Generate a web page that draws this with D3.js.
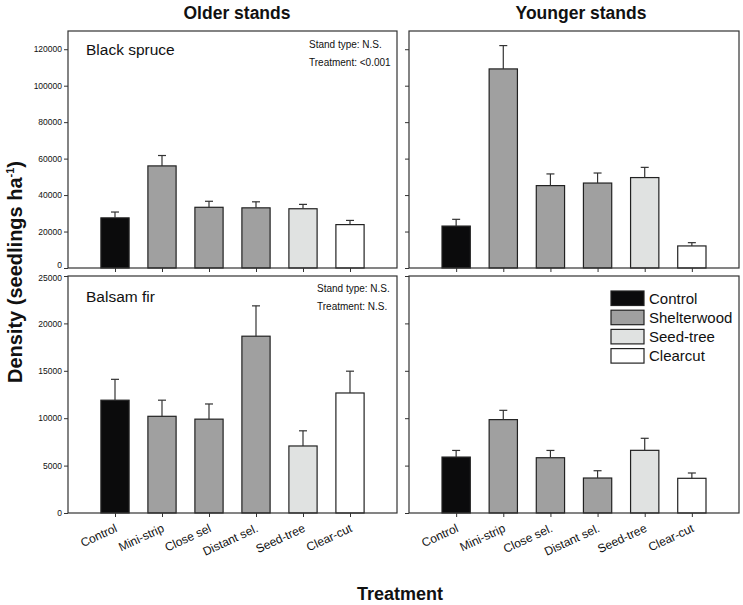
<!DOCTYPE html>
<html lang="en">
	<head>
		<meta charset="utf-8">
		<title>seedling density</title>
		<script type="text/javascript" src="https://d3js.org/d3.v7.min.js"></script>
		<style type="text/css">
			body { margin: 0; background: #fff; }
			text { font-family: "Liberation Sans", Arial, sans-serif; fill: #111; }
		</style>
	</head>
	<body>
		<script type="text/javascript">
			//Width and height
			var w = 743;
			var h = 605;

			//Data
			var labelsOlder = ["Control", "Mini-strip", "Close sel", "Distant sel.", "Seed-tree", "Clear-cut"];
			var labelsYounger = ["Control", "Mini-strip", "Close sel.", "Distant sel.", "Seed-tree", "Clear-cut"];
			var groups = ["Control", "Shelterwood", "Shelterwood", "Shelterwood", "Seed-tree", "Clearcut"];
			var legendItems = ["Control", "Shelterwood", "Seed-tree", "Clearcut"];

			var spruceOlder = [27500, 56000, 33300, 33000, 32500, 23800];
			var spruceOlderErr = [3200, 5700, 3300, 3300, 2400, 2300];
			var spruceYounger = [23000, 109200, 45200, 46600, 49600, 12100];
			var spruceYoungerErr = [3700, 12800, 6400, 5500, 5600, 1800];

			var firOlder = [11900, 10200, 9900, 18650, 7070, 12660];
			var firOlderErr = [2200, 1700, 1600, 3200, 1600, 2300];
			var firYounger = [5900, 9850, 5830, 3690, 6610, 3660];
			var firYoungerErr = [700, 980, 770, 770, 1270, 560];

			var spruceTicks = [0, 20000, 40000, 60000, 80000, 100000, 120000];
			var firTicks = [0, 5000, 10000, 15000, 20000, 25000];

			var fillColor = {
				"Control": "#0b0b0c",
				"Shelterwood": "#a0a0a0",
				"Seed-tree": "#e0e2e1",
				"Clearcut": "#ffffff"
			};

			//Panel layout
			var cols = [[68, 397], [409, 739]];
			var rows = [[31, 268], [276, 513]];

			var panels = [
				{col: 0, row: 0, values: spruceOlder, errs: spruceOlderErr, max: 130000, ticks: spruceTicks,
				 showY: true, label: "Black spruce", labelY: 55, note: ["Stand type: N.S.", "Treatment: <0.001"], noteX: 309, noteY: [47.5, 66]},
				{col: 1, row: 0, values: spruceYounger, errs: spruceYoungerErr, max: 130000, ticks: spruceTicks, showY: false},
				{col: 0, row: 1, values: firOlder, errs: firOlderErr, max: 25000, ticks: firTicks, showY: true,
				 label: "Balsam fir", labelY: 301.5, note: ["Stand type: N.S.", "Treatment: N.S."], noteX: 317, noteY: [291.5, 310], xLabels: labelsOlder},
				{col: 1, row: 1, values: firYounger, errs: firYoungerErr, max: 25000, ticks: firTicks, showY: false,
				 xLabels: labelsYounger, legend: true}
			];

			//Create SVG element
			var svg = d3.select("body")
						.append("svg")
						.attr("width", w)
						.attr("height", h);

			panels.forEach(function(p) {
				var x0 = cols[p.col][0], x1 = cols[p.col][1];
				var y0 = rows[p.row][0], y1 = rows[p.row][1];

				var xScale = d3.scalePoint()
							   .domain(d3.range(p.values.length))
							   .range([x0, x1])
							   .padding(1);
				var barW = xScale.step() * 0.6;

				var yScale = d3.scaleLinear()
							   .domain([0, p.max])
							   .range([y1, y0]);

				var g = svg.append("g");

				//bars
				g.selectAll("rect.bar")
				 .data(p.values)
				 .enter()
				 .append("rect")
				 .attr("class", "bar")
				 .attr("x", function(d, i) { return xScale(i) - barW / 2; })
				 .attr("y", function(d) { return yScale(d); })
				 .attr("width", barW)
				 .attr("height", function(d) { return y1 - yScale(d); })
				 .attr("fill", function(d, i) { return fillColor[groups[i]]; })
				 .attr("stroke", "#222")
				 .attr("stroke-width", 1.2);

				//error bars, upper only
				var err = g.selectAll("g.err")
						   .data(p.values)
						   .enter()
						   .append("g")
						   .attr("stroke", "#333")
						   .attr("stroke-width", 1.2);
				err.append("line")
				   .attr("x1", function(d, i) { return xScale(i); })
				   .attr("x2", function(d, i) { return xScale(i); })
				   .attr("y1", function(d) { return yScale(d); })
				   .attr("y2", function(d, i) { return yScale(d + p.errs[i]); });
				err.append("line")
				   .attr("x1", function(d, i) { return xScale(i) - 4; })
				   .attr("x2", function(d, i) { return xScale(i) + 4; })
				   .attr("y1", function(d, i) { return yScale(d + p.errs[i]); })
				   .attr("y2", function(d, i) { return yScale(d + p.errs[i]); });

				//frame
				g.append("rect")
				 .attr("x", x0)
				 .attr("y", y0)
				 .attr("width", x1 - x0)
				 .attr("height", y1 - y0)
				 .attr("fill", "none")
				 .attr("stroke", "#333")
				 .attr("stroke-width", 1.2);

				//Y axis
				var yAxis = d3.axisLeft()
							  .scale(yScale)
							  .tickValues(p.ticks)
							  .tickSize(4)
							  .tickSizeOuter(0)
							  .tickPadding(2)
							  .tickFormat(p.showY ? d3.format("d") : "");
				var ya = g.append("g")
						  .attr("transform", "translate(" + x0 + ",0)")
						  .call(yAxis);
				ya.select(".domain").remove();
				ya.selectAll("line").attr("stroke", "#333");
				ya.selectAll("text")
				  .style("font-family", "'Liberation Sans', Arial, sans-serif")
				  .style("font-size", "8.5px")
				  .attr("fill", "#222")
				  //nudge the shared corner labels apart (0 above, 25000 below)
				  .attr("dy", function(d) {
					if (p.row === 0 && d === 0) return "-0.05em";
					if (p.row === 1 && d === p.max) return "0.5em";
					return "0.32em";
				  });

				//X axis
				var xAxis = d3.axisBottom()
							  .scale(xScale)
							  .tickSize(4)
							  .tickSizeOuter(0)
							  .tickFormat("");
				var xa = g.append("g")
						  .attr("transform", "translate(0," + y1 + ")")
						  .call(xAxis);
				xa.select(".domain").remove();
				xa.selectAll("line").attr("stroke", "#333");

				if (p.xLabels) {
					g.selectAll("text.xlab")
					 .data(p.xLabels)
					 .enter()
					 .append("text")
					 .attr("class", "xlab")
					 .attr("text-anchor", "end")
					 .attr("transform", function(d, i) {
						return "translate(" + (xScale(i) + 3) + "," + (y1 + 18) + ") rotate(-25)";
					 })
					 .style("font-size", "12px")
					 .text(function(d) { return d; });
				}

				if (p.label) {
					g.append("text")
					 .attr("x", 86)
					 .attr("y", p.labelY)
					 .style("font-size", "15.5px")
					 .text(p.label);
					g.selectAll("text.note")
					 .data(p.note)
					 .enter()
					 .append("text")
					 .attr("class", "note")
					 .attr("x", p.noteX)
					 .attr("y", function(d, i) { return p.noteY[i]; })
					 .style("font-size", "10px")
					 .text(function(d) { return d; });
				}

				if (p.legend) {
					var lg = g.selectAll("g.legend")
							  .data(legendItems)
							  .enter()
							  .append("g")
							  .attr("transform", function(d, i) { return "translate(611," + (291 + i * 19.2) + ")"; });
					lg.append("rect")
					  .attr("width", 33)
					  .attr("height", 14.5)
					  .attr("fill", function(d) { return fillColor[d]; })
					  .attr("stroke", "#222")
					  .attr("stroke-width", 1.2);
					lg.append("text")
					  .attr("x", 38)
					  .attr("y", 12.5)
					  .style("font-size", "15px")
					  .text(function(d) { return d; });
				}
			});

			//Column titles
			svg.append("text")
			   .attr("x", 237)
			   .attr("y", 18.5)
			   .attr("text-anchor", "middle")
			   .style("font-size", "17.5px")
			   .style("font-weight", "bold")
			   .text("Older stands");
			svg.append("text")
			   .attr("x", 581)
			   .attr("y", 18.5)
			   .attr("text-anchor", "middle")
			   .style("font-size", "17.5px")
			   .style("font-weight", "bold")
			   .text("Younger stands");

			//Axis titles
			var yt = svg.append("text")
						.attr("transform", "translate(22,272) rotate(-90)")
						.attr("text-anchor", "middle")
						.style("font-size", "20px")
						.style("font-weight", "bold");
			yt.append("tspan").text("Density (seedlings ha");
			yt.append("tspan").attr("dy", -8).style("font-size", "11px").text("-1");
			yt.append("tspan").attr("dy", 8).text(")");

			svg.append("text")
			   .attr("x", 400)
			   .attr("y", 600)
			   .attr("text-anchor", "middle")
			   .style("font-size", "18px")
			   .style("font-weight", "bold")
			   .text("Treatment");
		</script>
	</body>
</html>
